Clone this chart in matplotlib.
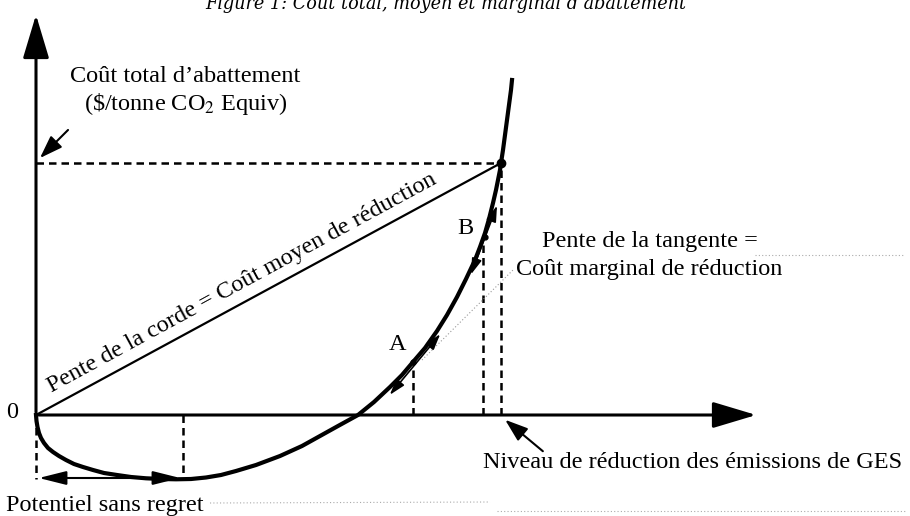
import matplotlib
matplotlib.use("Agg")
import matplotlib.pyplot as plt

plt.rcParams['font.family'] = ['Liberation Serif', 'DejaVu Serif']
plt.rcParams['mathtext.fontset'] = 'stix'

# courbe du coût total (x = niveau de réduction, y = coût)
courbe_x = [0, 0.5, 1.5, 3, 5, 8, 12, 17, 23, 30, 38, 47, 57, 68, 81, 95, 110, 125, 140, 155, 170,
            185, 200, 220, 244, 266, 284, 302, 322, 338, 354, 366, 377, 389, 401, 411, 421, 430,
            439, 444, 449, 453, 457, 460, 462, 464, 465, 467, 469, 471, 473, 475, 476]
courbe_y = [0, -6, -12, -18, -23, -28, -33, -37, -41, -45, -49, -52, -55, -58, -60, -62, -63.3, -64, -64.3, -64, -62.5,
            -60, -56, -50, -41, -31, -21, -11, 0, 13, 28, 40, 53, 67, 84, 100, 118, 136,
            155, 168, 182, 196, 212, 225, 235, 245, 252, 265, 280, 295, 310, 325, 335]

pt_total = (465, 252)    # point final (coût total)
pt_A = (377, 53)
pt_B = (449, 178)
pt_min = (147, -64)      # fin du potentiel sans regret

tangente_A = [(352, 18), (406, 83)]
tangente_B = [(434, 138), (462, 212)]

fig = plt.figure(figsize=(9.1, 5.16), dpi=100)
ax = fig.add_axes([0, 0, 1, 1])
ax.set_xlim(-36, 874)
ax.set_ylim(-101, 415)
ax.axis('off')

# axes avec flèches
ax.annotate('', xy=(0, 403), xytext=(0, 0),
            arrowprops=dict(arrowstyle='-|>,head_length=1.5,head_width=0.45', color='black', lw=2.2, mutation_scale=18))
ax.annotate('', xy=(723, 0), xytext=(0, 0),
            arrowprops=dict(arrowstyle='-|>,head_length=1.5,head_width=0.45', color='black', lw=2.2, mutation_scale=18))

# pointillés
ax.plot([0, pt_total[0]], [pt_total[1], pt_total[1]], ls=(0, (3, 2)), color='black', lw=1.8)
ax.plot([pt_total[0], pt_total[0]], [0, pt_total[1]], ls=(0, (3, 2)), color='black', lw=1.8)
ax.plot([pt_A[0], pt_A[0]], [0, pt_A[1]], ls=(0, (3, 2)), color='black', lw=1.8)
ax.plot([pt_B[0] - 2, pt_B[0] - 2], [0, pt_B[1] - 6], ls=(0, (3, 2)), color='black', lw=1.8)
ax.plot([pt_min[0], pt_min[0]], [0, pt_min[1]], ls=(0, (3, 2)), color='black', lw=1.8)
ax.plot([0, 0], [0, pt_min[1]], ls=(0, (3, 2)), color='black', lw=1.8)

# corde
ax.plot([0, pt_total[0]], [0, pt_total[1]], color='black', lw=1.6)

# courbe
ax.plot(courbe_x, courbe_y, color='black', lw=3, solid_joinstyle='round')
ax.plot(*pt_total, 'o', color='black', ms=6)
ax.plot(*pt_A, 'o', color='black', ms=3.5)
ax.plot(*pt_B, 'o', color='black', ms=3.5)

# tangentes
for seg in (tangente_A, tangente_B):
    ax.annotate('', xy=seg[1], xytext=seg[0],
                arrowprops=dict(arrowstyle='<|-|>,head_length=0.8,head_width=0.25', color='black', lw=1.2, mutation_scale=12))

# double flèche sans regret
ax.annotate('', xy=(pt_min[0], -63), xytext=(0, -63),
            arrowprops=dict(arrowstyle='<|-|>,head_length=1.2,head_width=0.3', color='black', lw=1.5, mutation_scale=14))

# flèches des étiquettes
ax.annotate('', xy=(2, 255), xytext=(34, 287),
            arrowprops=dict(arrowstyle='-|>,head_length=1.0,head_width=0.35', color='black', lw=1.5, mutation_scale=14))
ax.annotate('', xy=(467, -3), xytext=(509, -38),
            arrowprops=dict(arrowstyle='-|>,head_length=1.0,head_width=0.35', color='black', lw=1.5, mutation_scale=14))

# pointillés fins (renvoi + traits de la page)
ax.plot([386, 477], [55, 145], ls=(0, (1, 2)), color='#999999', lw=0.8)
ax.plot([174, 454], [-88, -87], ls=(0, (1, 2)), color='#aaaaaa', lw=0.8)
ax.plot([461, 869], [-96, -96], ls=(0, (1, 2)), color='#aaaaaa', lw=0.8)
ax.plot([719, 869], [160, 160], ls=(0, (1, 2)), color='#aaaaaa', lw=0.8)

# textes
fs = 17.5
ax.text(-24, 2, '0', fontsize=fs, ha='center', va='center')
ax.text(149, 339, "Coût total d’abattement", fontsize=fs, ha='center', va='center')
ax.text(150, 311, r"(\$/tonne CO$_2$ Equiv)", fontsize=fs, ha='center', va='center')
ax.text(209, 127, "Pente de la corde = Coût moyen de réduction", fontsize=fs,
        rotation=28.5, rotation_mode='anchor', ha='center', va='baseline')
ax.text(362, 70, 'A', fontsize=fs, ha='center', va='center')
ax.text(429, 187, 'B', fontsize=fs, ha='center', va='center')
ax.text(614, 174, "Pente de la tangente =", fontsize=fs, ha='center', va='center')
ax.text(613, 146, "Coût marginal de réduction", fontsize=fs, ha='center', va='center')
ax.text(657, -48, "Niveau de réduction des émissions de GES", fontsize=fs, ha='center', va='center')
ax.text(69, -90, "Potentiel sans regret", fontsize=fs, ha='center', va='center')

# titre coupé en haut
fig.text(205 / 910, 1 - 9 / 516, "Figure 1: Coût total, moyen et marginal d’abattement",
         fontsize=12.7, family='DejaVu Serif', style='italic', ha='left', va='baseline')

fig.savefig('out.png', dpi=100)
